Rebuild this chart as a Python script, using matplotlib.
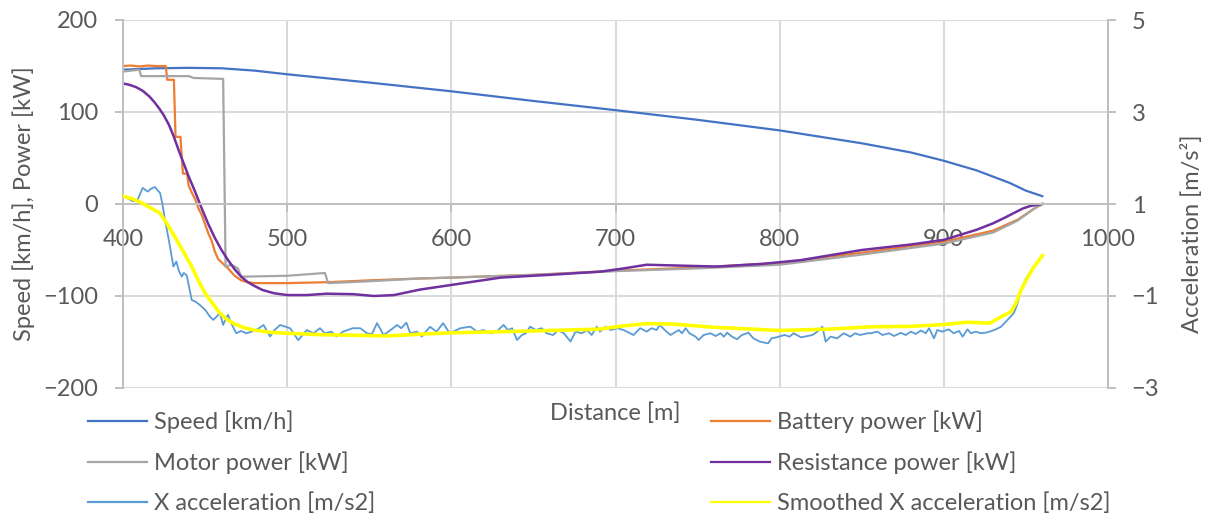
import matplotlib
matplotlib.use("Agg")
import matplotlib.pyplot as plt

plt.rcParams['font.family'] = ['Lato', 'DejaVu Sans']

W, H = 1211, 524

# SPEED [km/h]
speed_dist = [400, 420, 440, 460, 480, 500, 550, 600, 650, 700, 750, 800, 850, 880, 900, 920, 940,
              950, 960]
speed = [146, 147.5, 148, 147.5, 145, 141, 132, 122.5, 112, 102, 91.5, 80, 66, 56, 47, 36.5, 23,
         14.5, 8.5]

# BATTERY POWER [kW]
batt_dist = [400, 405, 410, 415, 420, 426, 427, 431, 432, 435, 436.5, 439, 440, 442, 444, 446, 448,
             450, 452, 454, 456, 458, 461, 464, 468, 472, 476, 480, 500, 525, 550, 580, 600, 650,
             700, 750, 800, 850, 900, 930, 945, 955, 960]
batt = [150, 150.5, 149.5, 150.5, 150, 150, 135, 135, 73, 73, 33, 33, 20, 12, 5, -5, -12,
        -22, -32, -40, -52, -60, -65, -70, -78, -83, -85, -86, -86, -85, -83, -81, -80, -77,
        -72.5, -69, -64, -53, -41, -29, -17, -5, 0]

# MOTOR POWER [kW]
motor_dist = [400, 405, 410, 411, 440, 443, 461, 462.5, 466, 470, 472, 500, 523, 525, 550, 580,
              600, 650, 700, 750, 800, 850, 900, 930, 945, 955, 960]
motor = [144, 145, 146, 139, 139, 137, 136, -68, -66, -70, -79, -78, -75, -86, -84, -81,
         -80, -77, -73, -70, -66, -55, -43, -31, -18, -5, 0]

# RESISTANCE POWER [kW]
res_dist = [400, 404, 408, 412, 416, 419, 422, 425, 428, 431, 434, 437, 440, 444, 448, 452, 456,
            460, 464, 468, 472, 476, 480, 485, 492, 500, 512, 524, 540, 553, 565, 581, 600, 615,
            630, 660, 691, 705, 719, 740, 762, 790, 813, 850, 880, 900, 920, 930, 937, 943, 948,
            953, 960]
res = [131, 129.5, 127, 123, 117, 111, 104, 96, 86, 73, 58, 44, 30, 13, -5, -22, -37,
       -50, -61, -71, -79, -85, -89, -93.5, -97, -99, -99, -97.5, -98, -100, -99, -93, -88, -84,
       -80, -77, -73.5, -70, -66, -67, -68, -65, -61, -50, -44, -39, -28, -21, -15, -9.5, -5,
       -2, 0]

# X ACCELERATION [m/s2] (right axis)
acc_dist = [400, 403, 406, 409, 412, 415, 417, 419.5, 421, 422.6, 424, 425.6, 428, 430.7, 432.5,
            434, 435.8, 437, 438.8, 440.5, 441.9, 444, 447, 450, 453, 455, 457, 459, 461, 462.5,
            464, 466, 469, 472, 475, 478, 482, 485.6, 487.5, 489.6, 492, 495.7,
            501.8, 506.7, 512, 516, 520, 523, 527, 530, 534, 540, 544.5, 548.6, 551.6, 554.7,
            556.5, 558.7, 563, 567, 569.5, 572.6, 575, 579, 582, 587, 591, 595, 599, 605.5, 611.6,
            615.7, 619.5, 623.8, 627.5, 631.8, 634.5, 637, 640, 643, 645.5, 648, 651.5, 655, 658,
            662, 665, 668.5, 672.6, 675.6, 679.5, 682.7, 685.5, 688.6, 690.5, 693.9, 697, 701,
            705, 711, 715, 719, 722, 725, 727, 730, 733.5,
            738.6, 740.5, 742.7, 745, 748.8, 750.6, 753.7, 757.9, 761, 764, 766, 768, 771, 774,
            777, 781, 784, 788, 793, 795, 798, 803, 806, 808.5, 813, 817, 820, 823, 826, 828,
            831, 835, 839, 843, 846, 849, 853.5,
            855.5, 859.6, 862.6, 866.7, 869.7, 873.8, 876.8, 879.9, 882.9, 886, 889, 891, 894,
            896, 899, 903, 906, 909.3, 911.4, 914.4, 916.5, 919.5, 922.6, 926.6, 930.7,
            934.8, 938.8, 942.7, 945, 947, 950, 953, 955, 958, 960]
acc = [1.16, 1.12, 1.06, 1.10, 1.35, 1.27, 1.33, 1.37, 1.30, 1.24, 1.00, 0.65, 0.20, -0.36, -0.25,
       -0.45, -0.58, -0.50, -0.55, -0.85, -1.09, -1.12, -1.20, -1.30, -1.45, -1.52, -1.45, -1.37,
       -1.63, -1.50, -1.41, -1.60, -1.81, -1.76, -1.81, -1.78, -1.72, -1.63, -1.75, -1.88, -1.75,
       -1.63,
       -1.70, -1.96, -1.74, -1.81, -1.70, -1.81, -1.775, -1.88, -1.775, -1.70, -1.70, -1.81,
       -1.83, -1.59, -1.70, -1.85, -1.74, -1.63, -1.70, -1.58, -1.81, -1.775, -1.88, -1.67,
       -1.775, -1.59, -1.81, -1.70, -1.667,
       -1.775, -1.74, -1.81, -1.775, -1.63, -1.74, -1.70, -1.957, -1.848, -1.81, -1.667, -1.74,
       -1.70, -1.81, -1.848, -1.74, -1.81, -1.99, -1.775, -1.81, -1.74, -1.848, -1.667, -1.775,
       -1.667, -1.74, -1.70, -1.74, -1.848, -1.70, -1.775, -1.70, -1.74, -1.63, -1.74, -1.848,
       -1.74, -1.81, -1.70, -1.81, -1.884, -1.957, -1.848, -1.81, -1.87, -1.81, -1.884, -1.797,
       -1.884, -1.94, -1.848, -1.797, -1.92, -1.993, -2.03, -1.92, -1.899, -1.848, -1.884,
       -1.81, -1.899, -1.87, -1.848, -1.775, -1.667, -1.993, -1.884, -1.92, -1.81, -1.884,
       -1.81, -1.848, -1.81,
       -1.81, -1.775, -1.848, -1.81, -1.87, -1.80, -1.848, -1.775, -1.825, -1.75, -1.81, -1.70,
       -1.92, -1.74, -1.775, -1.725, -1.81, -1.76, -1.884, -1.725, -1.81, -1.775, -1.81, -1.79,
       -1.74,
       -1.67, -1.52, -1.37, -1.15, -0.87, -0.62, -0.45, -0.36, -0.22, -0.15]

# SMOOTHED X ACCELERATION [m/s2]
smooth_dist = [400, 405, 410, 416, 422.6, 428, 432.7, 437, 442, 446, 450, 455, 459, 463, 467, 473,
               479.5, 490, 500, 520, 549, 560, 581, 600, 650, 690, 705, 719, 735, 760, 800, 830,
               855, 880, 900, 914, 928, 935, 941, 944, 947, 951, 955, 958, 960]
smooth = [1.17, 1.12, 1.05, 0.93, 0.80, 0.50, 0.22, -0.05, -0.37, -0.67, -0.94, -1.18, -1.37,
          -1.50, -1.59, -1.68, -1.74, -1.79, -1.81, -1.84, -1.86, -1.87, -1.83, -1.80, -1.76,
          -1.72, -1.65, -1.60, -1.61, -1.68, -1.75, -1.72, -1.67, -1.66, -1.62, -1.57, -1.59,
          -1.45, -1.34, -1.15, -0.87, -0.60, -0.36, -0.22, -0.12]

x_ticks = [400, 500, 600, 700, 800, 900, 1000]
left_ticks = [-200, -100, 0, 100, 200]
right_ticks = [-3, -1, 1, 3, 5]

TXT = '#595959'
AXC = '#bfbfbf'
GRID = '#d9d9d9'
FS = 17

fig = plt.figure(figsize=(W / 100, H / 100), dpi=100)
ax = fig.add_axes([123 / W, (H - 388) / H, (1108 - 123) / W, (388 - 20) / H])

ax.plot(speed_dist, speed, color='#4472C4', lw=1.6, label='Speed [km/h]')
ax.plot(batt_dist, batt, color='#ED7D31', lw=1.6, label='Battery power [kW]')
ax.plot(motor_dist, motor, color='#A5A5A5', lw=1.6, label='Motor power [kW]')
ax.plot(res_dist, res, color='#7030A0', lw=1.8, label='Resistance power [kW]')

ax.set_xlim(400, 1000)
ax.set_ylim(-200, 200)
ax.set_xticks(x_ticks)
ax.set_yticks(left_ticks)
ax.grid(True, color=GRID, lw=1.4)
ax.set_axisbelow(True)

ax.spines['bottom'].set_position(('data', 0))
ax.spines['bottom'].set_color(AXC)
ax.spines['bottom'].set_linewidth(1.4)
ax.spines['left'].set_color(AXC)
ax.spines['left'].set_linewidth(1.4)
ax.spines['top'].set_visible(False)
ax.spines['right'].set_visible(False)
ax.tick_params(axis='x', colors=AXC, labelcolor=TXT, labelsize=FS, length=6, width=1.4, pad=12)
ax.tick_params(axis='y', colors=AXC, labelcolor=TXT, labelsize=FS, length=6, width=1.4, pad=12)

ax2 = ax.twinx()
ax2.plot(acc_dist, acc, color='#5B9BD5', lw=1.3, label='X acceleration [m/s2]')
ax2.plot(smooth_dist, smooth, color='#FFFF00', lw=2.6, label='Smoothed X acceleration [m/s2]')
ax2.set_ylim(-3, 5)
ax2.set_yticks(right_ticks)
for s in ['top', 'bottom', 'left']:
    ax2.spines[s].set_visible(False)
ax2.spines['right'].set_color(AXC)
ax2.spines['right'].set_linewidth(1.4)
ax2.tick_params(axis='y', colors=AXC, labelcolor=TXT, labelsize=FS, length=6, width=1.4, pad=11)

fig.text(24 / W, 1 - 204 / H, 'Speed [km/h], Power [kW]', rotation=90, ha='center', va='center',
         color=TXT, fontsize=FS)
fig.text(1192 / W, 1 - 234 / H, 'Acceleration [m/s²]', rotation=90, ha='center', va='center',
         color=TXT, fontsize=FS)
fig.text(615 / W, 1 - 413 / H, 'Distance [m]', ha='center', va='center', color=TXT, fontsize=FS)

# LEGEND (two columns built as two legends)
l1, l2 = ax.get_lines(), ax2.get_lines()
left_col = [l1[0], l1[2], l2[0]]
right_col = [l1[1], l1[3], l2[1]]
for handles, x0 in [(left_col, 88), (right_col, 711)]:
    leg = fig.legend(handles=handles, labels=[h.get_label() for h in handles],
                     loc='center left', bbox_to_anchor=(x0 / W, 1 - 462 / H),
                     frameon=False, fontsize=FS, handlelength=2.5, handletextpad=0.3,
                     labelspacing=0.78, borderpad=0, borderaxespad=0)
    for t in leg.get_texts():
        t.set_color(TXT)
    for h in leg.get_lines():
        h.set_linewidth(1.6)

fig.savefig('out.png', dpi=100)
